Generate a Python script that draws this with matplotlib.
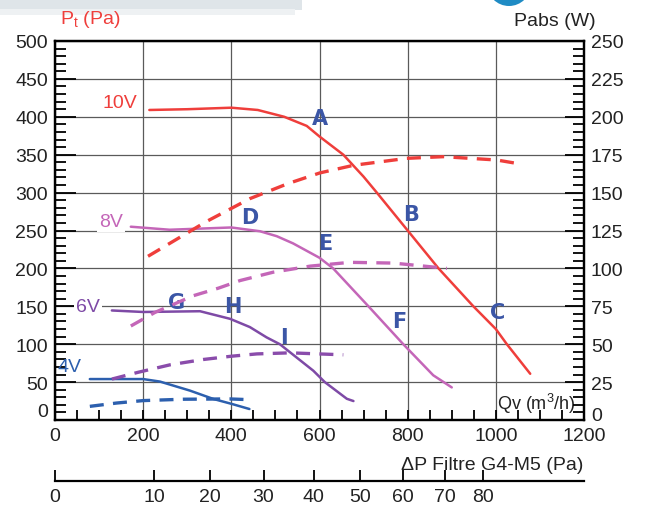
import matplotlib

matplotlib.use("Agg")
import matplotlib.pyplot as plt
from matplotlib.patches import Circle, Rectangle
from matplotlib.ticker import MultipleLocator

plt.rcParams["font.family"] = ["Liberation Sans Narrow", "Liberation Sans", "DejaVu Sans"]

# Pressure curves Pt (Pa) vs Qv (m3/h)
q_10v = [214, 300, 400, 460, 520, 571, 600, 654, 700, 730, 800, 870, 949, 1000, 1025, 1078]
pt_10v = [409, 410, 412, 409, 400, 388, 374, 350, 321, 300, 250, 200, 150, 120, 100, 61]
q_8v = [172, 260, 400, 465, 503, 540, 600, 631, 711, 790, 858, 900]
pt_8v = [255, 251, 254, 249, 242.5, 233, 214, 200, 150, 100, 59, 43]
q_6v = [129, 200, 329, 397, 442, 480, 510, 586, 612, 662, 677]
pt_6v = [144.5, 142.5, 143.5, 133.5, 122.6, 109, 100, 65, 50, 28, 25]
q_4v = [79, 200, 238, 306, 359, 401, 441]
pt_4v = [54, 54, 50.7, 38.8, 27.8, 21.2, 14.5]

# Absorbed power Pabs (W) vs Qv (m3/h)
qp_10v = [211, 344, 442, 529, 601, 677, 798, 881, 1002, 1059]
pabs_10v = [108, 131, 146, 156, 163, 168, 172.6, 173.7, 171.5, 168.7]
qp_8v = [172, 227, 314, 371, 420, 495, 579, 669, 768, 889]
pabs_8v = [62, 71, 82, 87, 92, 97.5, 101.5, 104, 103.5, 100]
qp_6v = [129, 189, 261, 336, 401, 458, 533, 654]
pabs_6v = [27, 31.5, 36.4, 39.9, 42.1, 43.6, 44.3, 43]
qp_4v = [79, 140, 200, 291, 397, 441]
pabs_4v = [9, 11.2, 12.8, 13.7, 13.9, 13.4]

# Filter pressure-drop scale under the Qv axis
dp_labels = [0, 10, 20, 30, 40, 50, 60, 70, 80]
dp_at_qv = [0, 225, 352, 473, 587, 692, 790, 885, 972]

# Operating point letters (Qv, Pt)
point_names = ["A", "B", "C", "D", "E", "F", "G", "H", "I"]
point_qv = [601, 807, 1003, 442, 612, 780, 276, 404, 520]
point_pt = [398, 272, 143, 268, 233, 131, 156, 151, 109]

pt_ticks = list(range(0, 501, 50))
pabs_ticks = list(range(0, 251, 25))

RED = "#ef3e3b"
PINK = "#c466b8"
PURPLE = "#7e4aa6"
BLUE = "#2c5fae"
LETTER = "#3b56a6"

fig = plt.figure(figsize=(6.56, 5.06), dpi=100)

# header decorations
fig.patches.append(Rectangle((0, 0.978), 0.46, 0.03, transform=fig.transFigure,
                             fc="#dfe5e9", ec="none"))
fig.patches.append(Rectangle((0, 0.968), 0.45, 0.012, transform=fig.transFigure,
                             fc="#eef1f3", ec="none"))
fig.patches.append(Circle((5.09, 5.21), 0.22, transform=fig.dpi_scale_trans,
                          fc="#1f8bc4", ec="none"))

ax = fig.add_axes([55 / 656, 1 - 421 / 506, 529 / 656, 379 / 506])
ax2 = ax.twinx()

ax.set_xlim(0, 1200)
ax.set_ylim(0, 500)
ax2.set_ylim(0, 250)

ax.grid(True, color="#5a5a5a", lw=0.9, zorder=0)
ax.xaxis.set_major_locator(MultipleLocator(200))
ax.xaxis.set_minor_locator(MultipleLocator(50))
ax.set_yticks(pt_ticks)
ax.yaxis.set_minor_locator(MultipleLocator(10))
ax2.set_yticks(pabs_ticks)
ax2.yaxis.set_minor_locator(MultipleLocator(5))

ax.tick_params(axis="both", which="both", direction="in", labelsize=14, width=1.3,
               colors="black", labelcolor="#222222")
ax.tick_params(axis="y", which="major", length=15, pad=5)
ax.tick_params(axis="y", which="minor", length=8)
ax.tick_params(axis="x", which="both", length=7, pad=5)
ax2.tick_params(axis="y", which="both", direction="in", labelsize=14, width=1.3,
                labelcolor="#222222", pad=5)
ax2.tick_params(axis="y", which="major", length=14)
ax2.tick_params(axis="y", which="minor", length=8)
for a in (ax, ax2):
    for s in a.spines.values():
        s.set_linewidth(1.6)
        s.set_color("black")

# the two "0" labels in the corner sit a little higher, clear of the Qv labels
ax.yaxis.get_major_ticks()[0].label1.set_verticalalignment("bottom")
ax2.yaxis.get_major_ticks()[0].label2.set_verticalalignment("baseline")

# solid Pt curves
for q, p, c in [(q_10v, pt_10v, RED), (q_8v, pt_8v, PINK),
                (q_6v, pt_6v, PURPLE), (q_4v, pt_4v, BLUE)]:
    ax.plot(q, p, color=c, lw=1.8, solid_capstyle="round", solid_joinstyle="round",
            zorder=3)

# dashed Pabs curves
for q, p, c in [(qp_10v, pabs_10v, RED), (qp_8v, pabs_8v, PINK),
                (qp_6v, pabs_6v, "#8a4cab"), (qp_4v, pabs_4v, BLUE)]:
    ax2.plot(q, p, color=c, lw=2.4, dashes=(4.2, 2.8), zorder=3)

for name, qx, py in zip(point_names, point_qv, point_pt):
    ax.text(qx, py, name, color=LETTER, fontsize=15, fontweight="bold",
            family=["DejaVu Sans"], ha="center", va="center", zorder=5)

volt_box = dict(fc="white", ec="none", pad=1.5)
ax.text(187, 419, "10V", color=RED, fontsize=14, ha="right", va="center")
ax.text(154, 262, "8V", color=PINK, fontsize=14, ha="right", va="center", bbox=volt_box)
ax.text(102, 150, "6V", color=PURPLE, fontsize=14, ha="right", va="center", bbox=volt_box)
ax.text(61, 70, "4V", color=BLUE, fontsize=14, ha="right", va="center")

ax.text(1180, 22, r"Qv (m$^\mathregular{3}$/h)", color="#222222", fontsize=13,
        ha="right", va="center", zorder=5)

fig.text(60 / 656, 1 - 20 / 506, r"P$_\mathregular{t}$ (Pa)", color=RED, fontsize=14,
         ha="left", va="center")
fig.text(555 / 656, 1 - 22 / 506, "Pabs (W)", color="#222222", fontsize=14,
         ha="center", va="center")

# filter pressure-drop axis
axf = fig.add_axes([55 / 656, 1 - 482 / 506, 529 / 656, 0.001])
axf.set_xlim(0, 1200)
axf.set_yticks([])
for side in ("top", "left", "right"):
    axf.spines[side].set_visible(False)
axf.spines["bottom"].set_linewidth(1.6)
axf.set_xticks(dp_at_qv)
axf.set_xticklabels([str(v) for v in dp_labels])
axf.tick_params(axis="x", direction="in", length=8, width=1.3, labelsize=14,
                labelcolor="#222222", pad=5)
fig.text(583 / 656, 1 - 466 / 506, "ΔP Filtre G4-M5 (Pa)", color="#222222",
         fontsize=14, ha="right", va="center")

fig.savefig("out.png", dpi=100)
